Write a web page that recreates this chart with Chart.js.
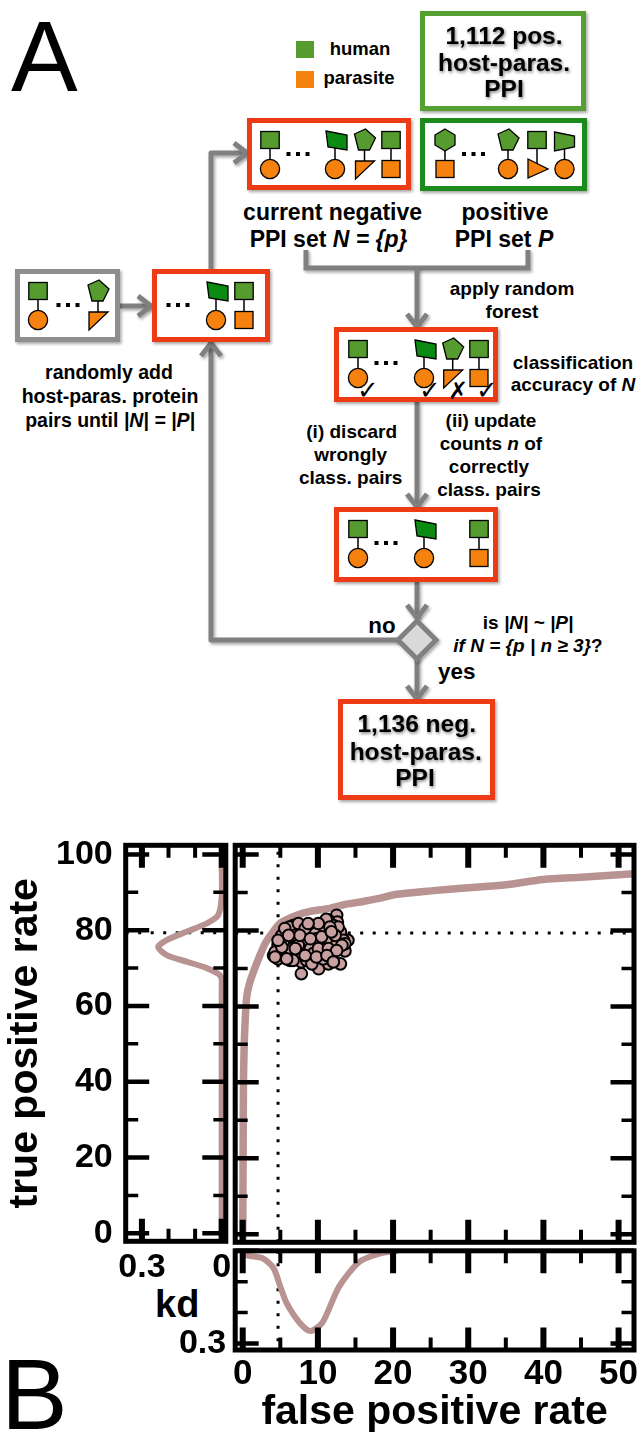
<!DOCTYPE html>
<html>
<head>
<meta charset="utf-8">
<title>PPI negative set selection</title>
<script src="https://cdn.jsdelivr.net/npm/chart.js@4"></script>
<style>
  html, body { margin: 0; padding: 0; background: #fff; }
  body { position: relative; width: 640px; height: 1437px; overflow: hidden; font-family: "Liberation Sans", Arial, sans-serif; }
  canvas, #flow { position: absolute; }
  .big { position: absolute; font-size: 100px; line-height: 100px; color: #000; }
  .kd { position: absolute; font-weight: bold; font-size: 38px; line-height: 38px; color: #000; }
</style>
</head>
<body>
<svg id="flow" width="640" height="1437" style="left:0;top:0"></svg>
<div class="big" style="left:11px;top:6px">A</div>
<div class="big" style="left:1px;top:1344px">B</div>
<div class="kd" style="left:155px;top:1285px">kd</div>
<canvas id="tprKd" style="left:0;top:835px"></canvas>
<canvas id="roc" style="left:232px;top:842px"></canvas>
<canvas id="fprKd" style="left:150px;top:1245px"></canvas>

<script>
// values
const rocFpr = [0, 0.05, 0.1, 0.2, 0.3, 0.5, 0.9, 1.6, 2.2, 3, 4, 5, 7.2, 9, 11.6, 13.8, 16, 18.3, 20.5, 25, 30, 35, 40, 45, 53];
const rocTpr = [-3, 20, 40, 50, 55, 62, 66, 70, 73, 76.6, 79.5, 81.9, 84, 85, 85.8, 86.9, 87.6, 88.5, 89.5, 90.4, 91.2, 92, 93.4, 94, 95];

const runFpr = [12.5, 12.6, 11.4, 10.3, 9.0, 7.8, 6.7, 6.2, 5.2, 4.7, 5.0, 4.7, 6.3, 7.8, 9.4, 10.1, 11.4, 13.0, 13.6, 14.0, 13.0, 11.6, 10.7, 9.6, 8.3, 6.5, 5.85, 8.2, 9.5, 10.7, 12.2, 11.7, 10.3, 7.2, 8.7, 5.7, 7.8, 7.4, 12.06, 11.1, 10.06, 13.4, 13.6, 12.7, 5.6, 7.0, 8.1, 9.0, 9.8, 11.2, 12.3, 6.3, 5.4, 4.1, 4.3, 7.4, 9.4, 10.7, 8.3, 10.06, 11.4, 13.2, 12.5, 5.2, 6.7, 8.5, 9.2, 5.85, 4.3, 7.6, 9.0, 10.5, 8.7, 11.6, 11.8, 6.1, 4.7, 7.0, 8.3, 9.8, 11.2, 12.06];
const runTpr = [84.0, 82.2, 82.7, 81.3, 80.9, 80.6, 81.3, 80.9, 78.7, 76.1, 73.9, 72.5, 72.1, 71.7, 72.1, 69.9, 71.2, 71.2, 74.6, 77.4, 79.6, 78.3, 80.5, 79.1, 78.3, 77.1, 76.5, 75.2, 76.8, 76.2, 76.5, 74.0, 73.9, 73.9, 73.4, 74.7, 68.6, 81.8, 81.3, 82.9, 81.8, 77.4, 76.5, 80.9, 80.5, 78.7, 76.9, 75.2, 77.8, 77.8, 78.7, 75.2, 76.9, 73.4, 74.3, 76.1, 73.9, 72.5, 80.5, 75.2, 75.2, 76.1, 74.7, 75.6, 72.1, 72.1, 71.2, 72.5, 73.0, 78.7, 77.8, 78.3, 81.8, 80.9, 79.6, 78.7, 77.4, 75.2, 73.4, 73.0, 73.4, 71.7];

const tprKdValue = [0, 0, 0, 0, 0.003, 0.013, 0.056, 0.132, 0.207, 0.239, 0.207, 0.132, 0.056, 0.013, 0, 0];
const tprKdAt = [-3, 60, 65, 67, 67.7, 68.5, 70, 71.7, 73.4, 75.6, 77.4, 79.6, 81.8, 84, 88.8, 96.6];

const fprKdAt = [0, 0.5, 2.7, 4.1, 5, 5.85, 7.6, 9, 10.6, 12.8, 15.5, 18.2, 20.6];
const fprKdValue = [0, 0.014, 0.025, 0.056, 0.116, 0.17, 0.234, 0.26, 0.233, 0.117, 0.036, 0.009, 0];

const fprCut = 4.7;
const tprCut = 79.3;

const fprTickLabels = [0, 10, 20, 30, 40, 50];
const tprTickLabels = [0, 20, 40, 60, 80, 100];
const kdTickLabels = [0, 0.3];

const fprRange = [-1, 52.05];
const tprRange = [-2.1, 102.4];

const curveColor = "#b99292";
const pointColor = "#c9a0a0";

function zip(xs, ys) {
  return xs.map((x, i) => ({ x: x, y: ys[i] }));
}

function dotted(a, b) {
  return {
    data: [a, b],
    showLine: true,
    borderColor: "#000",
    borderWidth: 3,
    borderDash: [3, 9.5],
    pointRadius: 0
  };
}

function curve(points, width) {
  return {
    data: points,
    showLine: true,
    borderColor: curveColor,
    borderWidth: width,
    tension: 0.25,
    pointRadius: 0
  };
}

// the frame is heavy and the ticks point inward, on all four sides
function framePlugin(xMajor, yMajor) {
  const isMajor = (list, v) => list.some((m) => Math.abs(m - v) < 1e-6);
  return {
    id: "frame",
    afterDatasetsDraw(chart) {
      const { ctx, chartArea: a, scales } = chart;
      const inset = 2.5;
      ctx.save();
      ctx.strokeStyle = "#000";
      scales.x.ticks.forEach((t) => {
        const major = isMajor(xMajor, t.value);
        const len = inset + (major ? 20 : 10);
        const px = scales.x.getPixelForValue(t.value);
        ctx.lineWidth = major ? 6 : 4;
        ctx.beginPath();
        ctx.moveTo(px, a.top); ctx.lineTo(px, a.top + len);
        ctx.moveTo(px, a.bottom); ctx.lineTo(px, a.bottom - len);
        ctx.stroke();
      });
      scales.y.ticks.forEach((t) => {
        const major = isMajor(yMajor, t.value);
        const len = inset + (major ? 21 : 10);
        const py = scales.y.getPixelForValue(t.value);
        ctx.lineWidth = major ? 4.5 : 3.5;
        ctx.beginPath();
        ctx.moveTo(a.left, py); ctx.lineTo(a.left + len, py);
        ctx.moveTo(a.right, py); ctx.lineTo(a.right - len, py);
        ctx.stroke();
      });
      ctx.lineWidth = 5;
      ctx.strokeRect(a.left, a.top, a.right - a.left, a.bottom - a.top);
      ctx.restore();
    }
  };
}

function labelFrom(list) {
  return (v) => {
    const r = Math.round(v * 10) / 10;
    return list.includes(r) ? String(r) : "";
  };
}

// keep the axis box at an exact size, labels may stick out of it
function fixAxis(size) {
  return (s) => {
    if (s.isHorizontal()) s.height = size; else s.width = size;
    s.paddingTop = s.paddingBottom = s.paddingLeft = s.paddingRight = 0;
  };
}

const baseOptions = {
  responsive: false,
  animation: false,
  events: [],
  plugins: { legend: { display: false }, tooltip: { enabled: false } }
};

const tickFont = { family: "Liberation Sans", weight: "bold", size: 34 };
const titleFont = { family: "Liberation Sans", weight: "bold", size: 41, lineHeight: 1.2 };

function setSize(id, w, h) {
  const el = document.getElementById(id);
  el.width = w;
  el.height = h;
  el.style.width = w + "px";
  el.style.height = h + "px";
  return el;
}

new Chart(setSize("roc", 405, 404), {
  type: "scatter",
  data: {
    datasets: [
      {
        data: zip(runFpr, runTpr),
        pointRadius: 5.8,
        pointBackgroundColor: pointColor,
        pointBorderColor: "#000",
        pointBorderWidth: 2
      },
      curve(zip(rocFpr, rocTpr), 7.5),
      dotted({ x: fprCut, y: tprRange[0] }, { x: fprCut, y: tprRange[1] }),
      dotted({ x: fprRange[0], y: tprCut }, { x: fprRange[1], y: tprCut })
    ]
  },
  options: {
    ...baseOptions,
    layout: { autoPadding: false, padding: { left: 3.2, right: 3, top: 3.3, bottom: 3.7 } },
    scales: {
      x: { display: false, min: fprRange[0], max: fprRange[1], ticks: { stepSize: 5, includeBounds: false } },
      y: { display: false, min: tprRange[0], max: tprRange[1], ticks: { stepSize: 10, includeBounds: false } }
    }
  },
  plugins: [framePlugin(fprTickLabels, tprTickLabels)]
});

new Chart(setSize("tprKd", 240, 450), {
  type: "scatter",
  data: {
    datasets: [
      curve(zip(tprKdValue, tprKdAt), 6),
      dotted({ x: 0.361, y: tprCut }, { x: -0.0154, y: tprCut })
    ]
  },
  options: {
    ...baseOptions,
    layout: { autoPadding: false, padding: { right: 14.2, top: 10.3 } },
    scales: {
      x: {
        reverse: true,
        min: -0.0154,
        max: 0.361,
        border: { display: false },
        grid: { display: false, drawTicks: false },
        afterFit: fixAxis(43.7),
        ticks: {
          stepSize: 0.1,
          includeBounds: false,
          autoSkip: false,
          maxRotation: 0,
          padding: 6,
          color: "#000",
          font: tickFont,
          callback: labelFrom(kdTickLabels)
        }
      },
      y: {
        min: tprRange[0],
        max: tprRange[1],
        border: { display: false },
        grid: { display: false, drawTicks: false },
        afterFit: fixAxis(125.7),
        title: { display: true, text: "true positive rate", color: "#000", font: titleFont, padding: { top: 1.4, bottom: 0 } },
        ticks: {
          stepSize: 10,
          includeBounds: false,
          autoSkip: false,
          padding: 13,
          color: "#000",
          font: tickFont,
          callback: labelFrom(tprTickLabels)
        }
      }
    }
  },
  plugins: [framePlugin(kdTickLabels, tprTickLabels)]
});

new Chart(setSize("fprKd", 490, 192), {
  type: "scatter",
  data: {
    datasets: [
      curve(zip(fprKdAt, fprKdValue), 6),
      dotted({ x: fprCut, y: 0 }, { x: fprCut, y: 0.3214 })
    ]
  },
  options: {
    ...baseOptions,
    layout: { autoPadding: false, padding: { right: 6, top: 5.8 } },
    scales: {
      x: {
        min: fprRange[0],
        max: fprRange[1],
        border: { display: false },
        grid: { display: false, drawTicks: false },
        afterFit: fixAxis(87),
        title: { display: true, text: "false positive rate", color: "#000", font: titleFont, padding: { top: 0, bottom: 0 } },
        ticks: {
          stepSize: 5,
          includeBounds: false,
          autoSkip: false,
          maxRotation: 0,
          padding: 3,
          color: "#000",
          font: { family: "Liberation Sans", weight: "bold", size: 35 },
          callback: labelFrom(fprTickLabels)
        }
      },
      y: {
        reverse: true,
        min: 0,
        max: 0.3214,
        border: { display: false },
        grid: { display: false, drawTicks: false },
        afterFit: fixAxis(85.2),
        ticks: {
          stepSize: 0.1,
          includeBounds: false,
          autoSkip: false,
          padding: 9,
          color: "#000",
          font: tickFont,
          callback: (v) => (Math.abs(v - 0.3) < 1e-6 ? "0.3" : "")
        }
      }
    }
  },
  plugins: [framePlugin(fprTickLabels, kdTickLabels)]
});

// flow diagram in panel A, plain svg
const GREEN = "#559b2f", DARK = "#0b8a14", ORANGE = "#f5810f", RED = "#ee3a14", GRAY = "#808080";
const topShapes = {
  sq: `<rect x="-9.2" y="-8.5" width="18.4" height="17" fill="${GREEN}"/>`,
  trap: `<polygon points="-9,-9 12,-5 12,10 -7,7" fill="${DARK}"/>`,
  trapR: `<polygon points="-10,-8 10,-4 10,7 -10,11" fill="${GREEN}"/>`,
  pent: `<polygon points="-10,-6 1,-11 11,-2 5,10 -6,10" fill="${GREEN}"/>`,
  hex: `<polygon points="0,-11 10,-5 10,5 0,11 -10,5 -10,-5" fill="${GREEN}"/>`
};
const botShapes = {
  circ: `<circle r="9.6" fill="${ORANGE}"/>`,
  sq: `<rect x="-9" y="-8.5" width="18" height="17" fill="${ORANGE}"/>`,
  tri1: `<polygon points="-9,-8 10,-8 -9,10" fill="${ORANGE}"/>`,
  tri2: `<polygon points="-9,-10 11,0 -9,9" fill="${ORANGE}"/>`
};

function pair(x, boxY, top, bot) {
  const t = boxY + 22, b = boxY + 51;
  return `<line x1="${x}" y1="${t}" x2="${x}" y2="${b}" stroke="#000" stroke-width="1.5"/>` +
    `<g stroke="#000" stroke-width="1.3"><g transform="translate(${x},${t})">${topShapes[top]}</g>` +
    `<g transform="translate(${x},${b})">${botShapes[bot]}</g></g>`;
}

function dots(x, boxY) {
  return [-9.5, 0, 9.5].map((d) => `<rect x="${x + d - 2}" y="${boxY + 34}" width="4" height="4"/>`).join("");
}

function box(x1, y1, x2, y2, color) {
  return `<rect x="${x1 + 2.5}" y="${y1 + 2.5}" width="${x2 - x1 - 5}" height="${y2 - y1 - 5}" fill="#fff" stroke="${color}" stroke-width="5" filter="url(#sh)"/>`;
}

function arrow(pts) {
  const n = pts.length;
  const [x0, y0] = pts[n - 2], [x1, y1] = pts[n - 1];
  const len = Math.hypot(x1 - x0, y1 - y0);
  const ux = (x1 - x0) / len, uy = (y1 - y0) / len;
  const wing = (s) => [x1 - ux * 13 - uy * 10 * s, y1 - uy * 13 + ux * 10 * s];
  const a = wing(1), b = wing(-1);
  return `<polyline points="${pts.map((p) => p.join(",")).join(" ")}" fill="none" stroke="${GRAY}" stroke-width="5" stroke-linejoin="round" filter="url(#sh)"/>` +
    `<polyline points="${a.join(",")} ${x1},${y1} ${b.join(",")}" fill="none" stroke="${GRAY}" stroke-width="5" filter="url(#sh)"/>`;
}

function text(x, y, size, inner, extra) {
  return `<text x="${x}" y="${y}" dy=".35em" font-size="${size}" font-weight="bold" text-anchor="middle" ${extra || ""}>${inner}</text>`;
}
const it = (s) => `<tspan font-style="italic">${s}</tspan>`;

let flow = `<defs>
  <filter id="sh" filterUnits="userSpaceOnUse" x="0" y="0" width="640" height="1437"><feDropShadow dx="1.5" dy="2" stdDeviation="1.5" flood-color="#000" flood-opacity=".35"/></filter>
  <filter id="tsh" filterUnits="userSpaceOnUse" x="0" y="0" width="640" height="1437"><feDropShadow dx="1" dy="1.5" stdDeviation="1.6" flood-color="#000" flood-opacity=".5"/></filter>
</defs>`;

// arrows first, boxes on top
flow += arrow([[120, 306], [151, 306]]);
flow += arrow([[211, 269], [211, 153], [247, 153]]);
flow += `<polyline points="306,250 306,268 528,268 528,250" fill="none" stroke="${GRAY}" stroke-width="5" filter="url(#sh)"/>`;
flow += arrow([[417, 268], [417, 327]]);
flow += arrow([[417, 402], [417, 507]]);
flow += arrow([[417, 582], [417, 618]]);
flow += arrow([[417, 655], [417, 699]]);
flow += arrow([[400, 640], [211, 640], [211, 343]]);

flow += box(15, 269, 120, 342, "#8e8e8e") + box(152, 269, 270, 342, RED);
flow += box(247, 118, 411, 190, RED) + box(420, 118, 587, 191, "#1f8a1e");
flow += box(420, 11, 586, 111, "#57a032");
flow += box(334, 327, 498, 402, RED) + box(334, 507, 498, 582, RED) + box(338, 699, 495, 800, RED);
flow += `<polygon points="417,621 436,640 417,659 398,640" fill="#d9d9d9" stroke="${GRAY}" stroke-width="5" filter="url(#sh)"/>`;

flow += `<rect x="296" y="41" width="18" height="17" fill="${GREEN}"/><rect x="296" y="71" width="18" height="17" fill="${ORANGE}"/>`;

flow += pair(270, 118, "sq", "circ") + dots(298, 118) + pair(335, 118, "trap", "circ") + pair(364.5, 118, "pent", "tri1") + pair(391, 118, "sq", "sq");
flow += pair(445, 118, "hex", "sq") + dots(473.5, 118) + pair(508, 118, "pent", "circ") + pair(537, 118, "sq", "tri2") + pair(564.5, 118, "trapR", "circ");
flow += pair(38, 269, "sq", "circ") + dots(68, 269) + pair(98, 269, "pent", "tri1");
flow += dots(178, 269) + pair(216, 269, "trap", "circ") + pair(244, 269, "sq", "sq");
flow += pair(358, 327, "sq", "circ") + dots(386, 327) + pair(424, 327, "trap", "circ") + pair(452.7, 327, "pent", "tri1") + pair(479, 327, "sq", "sq");
flow += pair(358, 507, "sq", "circ") + dots(386, 507) + pair(424, 507, "trap", "circ") + pair(479, 507, "sq", "sq");

const checkFont = `font-family="DejaVu Sans" style="font-weight:normal"`;
flow += text(368, 390, 26, "✓", checkFont) + text(430, 390, 26, "✓", checkFont) + text(458, 391, 24, "✗", checkFont) + text(487, 390, 26, "✓", checkFont);

flow += text(360, 49, 18.5, "human") + text(359, 78, 18.5, "parasite");
flow += text(504, 35, 24.5, "1,112 pos.", 'filter="url(#tsh)"') + text(504, 62, 24.5, "host-paras.", 'filter="url(#tsh)"') + text(504, 88, 24.5, "PPI", 'filter="url(#tsh)"');
flow += text(332.6, 212, 23, "current negative") + text(328.6, 239, 23, `PPI set ${it("N = {p}")}`);
flow += text(505, 212, 23, "positive") + text(504, 239, 23, `PPI set ${it("P")}`);
flow += text(512, 288, 19, "apply random") + text(512, 311, 19, "forest");
flow += text(109, 372, 19.5, "randomly add") + text(110, 396, 19.5, "host-paras. protein") + text(110, 420, 19.5, `pairs until ${it("|N| = |P|")}`);
flow += text(573, 362, 19, "classification") + text(573, 384, 19, `accuracy of ${it("N")}`);
flow += text(351.7, 431, 19, "(i) discard") + text(350.7, 454, 19, "wrongly") + text(350.7, 477, 19, "class. pairs");
flow += text(491, 420, 19, "(ii) update") + text(491, 443, 19, `counts ${it("n")} of`) + text(489, 466, 19, "correctly") + text(489, 489, 19, "class. pairs");
flow += text(382, 625, 22.4, "no") + text(456.7, 671, 22.4, "yes");
flow += text(528, 622, 19, `is ${it("|N| ~ |P|")}`) + text(528, 645, 19, it("if N = {p | n ≥ 3}") + "?");
flow += text(416.7, 723, 24.5, "1,136 neg.", 'filter="url(#tsh)"') + text(415.7, 751, 24.5, "host-paras.", 'filter="url(#tsh)"') + text(415, 777, 24.5, "PPI", 'filter="url(#tsh)"');

document.getElementById("flow").innerHTML = flow;
</script>
</body>
</html>
